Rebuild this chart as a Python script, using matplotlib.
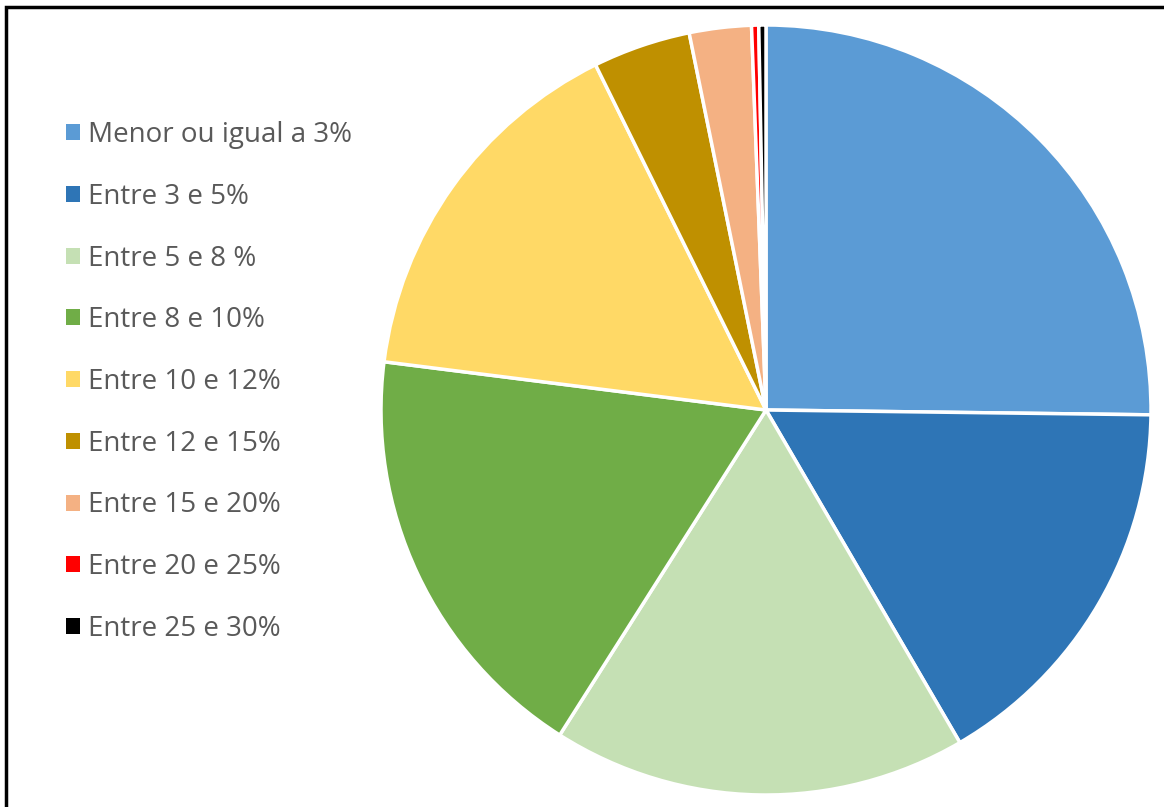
import matplotlib
matplotlib.use("Agg")
import matplotlib.pyplot as plt
from matplotlib.patches import Rectangle

labels = ["Menor ou igual a 3%", "Entre 3 e 5%", "Entre 5 e 8 %", "Entre 8 e 10%",
          "Entre 10 e 12%", "Entre 12 e 15%", "Entre 15 e 20%", "Entre 20 e 25%",
          "Entre 25 e 30%"]
values = [25.2, 16.4, 17.4, 18.0, 15.7, 4.1, 2.6, 0.3, 0.3]
colors = ["#5B9BD5", "#2E75B6", "#C5E0B4", "#70AD47", "#FFD966", "#BF9000",
          "#F4B183", "#FF0000", "#000000"]

W, H = 1164, 807
fig = plt.figure(figsize=(W / 100, H / 100), dpi=100)

cx, cy, r = 766, 410, 385
ax = fig.add_axes([(cx - r) / W, (H - cy - r) / H, 2 * r / W, 2 * r / H])
wedges, _ = ax.pie(values, colors=colors, startangle=90, counterclock=False,
                   radius=1, wedgeprops=dict(edgecolor="white", linewidth=2.5))
ax.set_xlim(-1, 1)
ax.set_ylim(-1, 1)
ax.set_aspect("auto")
ax.axis("off")

leg = fig.legend(wedges, labels, loc="upper left",
                 bbox_to_anchor=(41 / W, 1 - 96 / H),
                 frameon=False, handlelength=0.5, handleheight=0.5,
                 handletextpad=0.3, labelspacing=1.215,
                 prop={"family": "Open Sans", "size": 20})
for t in leg.get_texts():
    t.set_color("#595959")
for h in leg.legend_handles:
    h.set_edgecolor("none")

# outer frame (top and left visible)
fig.add_artist(Rectangle((6 / W, -0.1), 1.2, 1 - 7 / H + 0.1,
                         transform=fig.transFigure, fill=False,
                         edgecolor="black", linewidth=2.5))

fig.savefig("out.png", dpi=100)
